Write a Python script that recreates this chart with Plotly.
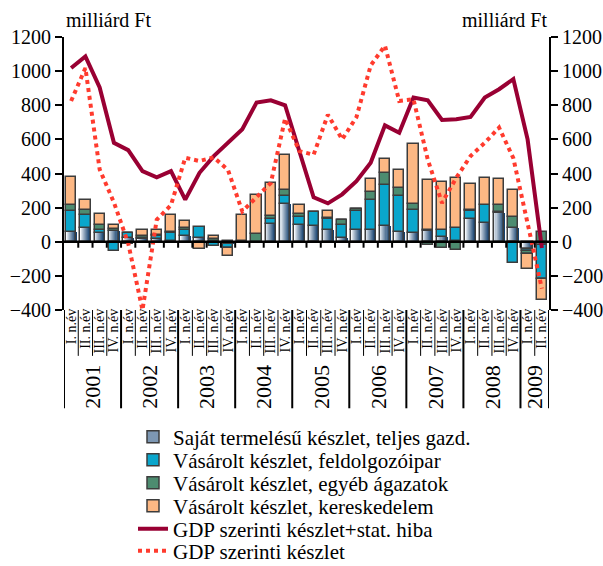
import numpy as np
import plotly.graph_objects as go

quarter_labels = ["I. n.év", "II. n.év", "III. n.év", "IV. n.év"] * 8 + ["I. n.év", "II. n.év"]
years = ["2001", "2002", "2003", "2004", "2005", "2006", "2007", "2008", "2009"]
quarters_per_year = [4, 4, 4, 4, 4, 4, 4, 4, 2]

own = [57, 80, 51, 64, 20, 16, 16, 3, 31, 20, 3, -15, 0, 0, 106, 222, 100, 90, 70, 22,
       67, 67, 94, 57, 51, 62, 28, 3, 135, 110, 169, 80, -40, -20]
manuf = [121, 75, 16, -57, 30, 8, 19, 50, 39, 66, -25, -20, 0, 0, 29, 49, 45, 85, 66, 78,
         111, 180, 237, 214, 133, 8, 42, 77, 47, 108, 6, -122, -12, -200]
other = [36, 29, 29, 11, 3, 7, 5, 3, 10, -8, 15, 3, 2, 45, 18, 35, 18, 0, 6, 25,
         14, 43, 73, 45, 40, -18, -37, -47, 2, 0, 41, 65, -18, 55]
trade = [167, 63, 67, 25, -15, 39, 30, 100, 40, -35, 16, -50, 157, 227, 192, 204, 51, -8, 40, 0,
         0, 79, 82, 104, 347, 291, 279, 293, 155, 157, 149, 157, -91, -122]
gdp_stat = [1018, 1086, 904, 580, 537, 414, 378, 414, 247, 404, 502, 584, 659, 816, 829, 800, 530,
            261, 225, 278, 355, 463, 682, 639, 845, 829, 714, 718, 731, 845, 894, 953, 600, -37]
gdp = [825, 1018, 424, 230, -8, -400, 129, 215, 492, 473, 495, 420, 178, 265, 345, 722, 531,
       510, 745, 600, 730, 1033, 1149, 825, 835, 482, 227, 375, 502, 580, 669, 490, 100, -275]

names = ["Saját termelésű készlet, teljes gazd.",
         "Vásárolt készlet, feldolgozóipar",
         "Vásárolt készlet, egyéb ágazatok",
         "Vásárolt készlet, kereskedelem",
         "GDP szerinti készlet+stat. hiba",
         "GDP szerinti készlet"]

FONT = "Liberation Serif"
n = len(quarter_labels)
xs = np.arange(n)
W = 0.72
edge = "#3c3c3c"
legend_ids = ["legend", "legend2", "legend3", "legend4", "legend5", "legend6"]

# manual relative stacking
series = [np.array(own, float), np.array(manuf, float), np.array(other, float), np.array(trade, float)]
pos = np.zeros(n)
neg = np.zeros(n)
bases = []
for s in series:
    b = np.where(s >= 0, pos, neg)
    bases.append(b)
    pos = pos + np.where(s >= 0, s, 0)
    neg = neg + np.where(s < 0, s, 0)

fig = go.Figure()

# gradient stripes for own-production series
N = 10
c0 = np.array([246, 249, 252])
c1 = np.array([22, 66, 112])
for k in range(N):
    t = k / (N - 1)
    c = (c0 + (c1 - c0) * t ** 0.9).astype(int)
    fig.add_trace(go.Bar(x=xs, y=series[0], base=bases[0], width=W / N * 1.08,
                         offset=-W / 2 + k * W / N,
                         marker=dict(color=f"rgb({c[0]},{c[1]},{c[2]})", line=dict(width=0)),
                         showlegend=False, hoverinfo="skip"))
fig.add_trace(go.Bar(x=xs, y=series[0], base=bases[0], width=W,
                     marker=dict(color="rgba(0,0,0,0)", line=dict(color=edge, width=1.5)),
                     showlegend=False))
fig.add_trace(go.Bar(x=[None], y=[None], name=names[0], legend=legend_ids[0],
                     marker=dict(color="#7d97b3", line=dict(color=edge, width=1.5))))

colors = ["#0aa6cc", "#4d8c70", "#fdb884"]
for j in range(1, 4):
    fig.add_trace(go.Bar(x=xs, y=series[j], base=bases[j], width=W, name=names[j],
                         legend=legend_ids[j],
                         marker=dict(color=colors[j - 1], line=dict(color=edge, width=1.5))))

fig.add_trace(go.Scatter(x=xs, y=gdp_stat, mode="lines", name=names[4], legend=legend_ids[4],
                         line=dict(color="#990033", width=4)))
fig.add_trace(go.Scatter(x=xs, y=gdp, mode="lines", name=names[5], legend=legend_ids[5],
                         yaxis="y2", line=dict(color="#ff3b2e", width=4, dash="dot")))

shapes = []
# zero line ticks
for i in range(n - 1):
    shapes.append(dict(type="line", xref="x", yref="y", x0=i + 0.5, x1=i + 0.5, y0=0, y1=-35,
                       line=dict(color="black", width=2)))
shapes.append(dict(type="line", xref="x", yref="y", x0=-0.5, x1=n - 0.5, y0=0, y1=0,
                   line=dict(color="black", width=2.5)))
# separators in the label area
year_bounds = [-0.5]
for q in quarters_per_year:
    year_bounds.append(year_bounds[-1] + q)
for i in range(n - 1):
    b = i + 0.5
    if b not in year_bounds:
        shapes.append(dict(type="line", xref="x", yref="paper", x0=b, x1=b, y0=0, y1=-0.168,
                           line=dict(color="black", width=1)))
for b in year_bounds:
    shapes.append(dict(type="line", xref="x", yref="paper", x0=b, x1=b, y0=0, y1=-0.36,
                       line=dict(color="black", width=2)))

annotations = [
    dict(text="milliárd Ft", xref="paper", yref="paper", x=0.0, y=1.062, xanchor="left",
         yanchor="middle", showarrow=False, font=dict(family=FONT, size=20, color="black")),
    dict(text="milliárd Ft", xref="paper", yref="paper", x=1.0, y=1.062, xanchor="right",
         yanchor="middle", showarrow=False, font=dict(family=FONT, size=20, color="black")),
]
for yi, yr in enumerate(years):
    c = (year_bounds[yi] + year_bounds[yi + 1]) / 2
    annotations.append(dict(text=yr, xref="x", yref="paper", x=c, y=-0.283, textangle=-90,
                            showarrow=False, xanchor="center", yanchor="middle",
                            font=dict(family=FONT, size=22, color="black")))

yax = dict(range=[-400, 1200], tickvals=list(range(-400, 1201, 200)), showgrid=False,
           zeroline=False, showline=True, linecolor="black", linewidth=2, ticks="outside",
           ticklen=7, tickwidth=2, tickcolor="black", automargin=False,
           tickfont=dict(family=FONT, size=20, color="black"))

H = 566
row_y = [437, 460, 483, 506, 529, 551]
legends = {}
for lid, ry in zip(legend_ids, row_y):
    legends[lid] = dict(xref="container", yref="container", x=133 / 603, y=1 - ry / H,
                        xanchor="left", yanchor="middle", bgcolor="rgba(0,0,0,0)",
                        font=dict(family=FONT, size=21, color="black"), itemwidth=30)

fig.update_layout(
    width=603, height=H,
    margin=dict(l=64, r=54, t=37, b=256, autoexpand=False),
    paper_bgcolor="white", plot_bgcolor="white",
    barmode="overlay", bargap=0,
    xaxis=dict(range=[-0.5, n - 0.5], tickvals=list(xs), ticktext=quarter_labels, tickangle=-90,
               showgrid=False, zeroline=False, showline=False, ticks="", automargin=False,
               ticklabelstandoff=-5,
               tickfont=dict(family=FONT, size=14, color="black")),
    yaxis=yax,
    yaxis2=dict(yax, overlaying="y", side="right"),
    shapes=shapes,
    annotations=annotations,
    showlegend=True,
    **legends,
)

fig.write_html("out.html", config={"displayModeBar": False},
               post_script="document.body.style.margin='0';")
